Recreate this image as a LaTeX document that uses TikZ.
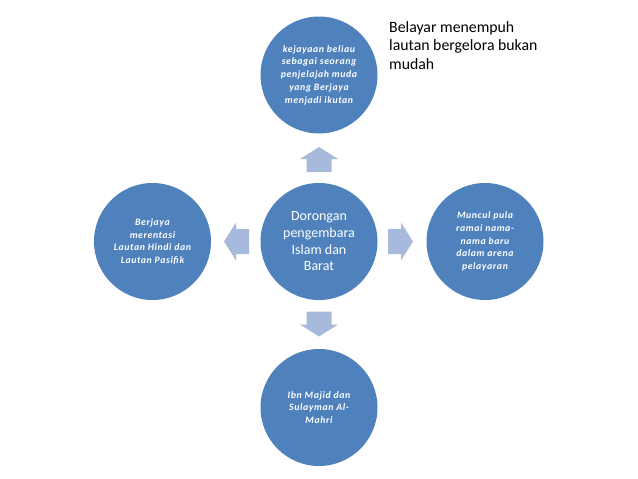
\documentclass[tikz,border=0pt]{standalone}
\usepackage{fontspec}
\setmainfont{Carlito}
\usepackage{tikz}
\definecolor{circblue}{HTML}{4F81BD}
\definecolor{arrowblue}{HTML}{A7BADB}
\tikzset{
  bubble/.style={circle, fill=circblue, minimum size=117pt, inner sep=0pt,
    text=white, align=center},
  smalltext/.style={font=\fontsize{9.8}{12.7}\selectfont\bfseries\itshape\addfontfeatures{LetterSpace=6}},
  bigtext/.style={font=\fontsize{14}{16.7}\selectfont},
  blockarrow/.style={fill=arrowblue}
}
\newcommand{\blockarr}[2]{%
\begin{scope}[shift={#1}, rotate=#2]
\fill[blockarrow] (0,-12.5) -- (13,-12.5) -- (13,-19) -- (25,0) -- (13,19) -- (13,12.5) -- (0,12.5) -- cycle;
\end{scope}}

\begin{document}
\begin{tikzpicture}[x=1pt,y=-1pt]
\useasboundingbox (0,0) rectangle (638,479);
% circles
\node[bubble, bigtext] (centre) at (319,241.5) {Dorongan\\pengembara\\Islam dan\\Barat};
\node[bubble, smalltext] (top) at (319,75) {kejayaan beliau\\sebagai seorang\\penjelajah muda\\yang Berjaya\\menjadi ikutan};
\node[bubble, smalltext] (left) at (152.5,241.5) {Berjaya\\merentasi\\Lautan Hindi dan\\Lautan Pasifik};
\node[bubble, smalltext] (right) at (485,241.5) {Muncul pula\\ramai nama-\\nama baru\\dalam arena\\pelayaran};
\node[bubble, smalltext] (bottom) at (319,407.5) {Ibn Majid dan\\Sulayman Al-\\Mahri};
% arrows
\blockarr{(319,172)}{90}
\blockarr{(319,311.5)}{-90}
\blockarr{(249,241.5)}{180}
\blockarr{(388,241.5)}{0}
% note
\node[anchor=north west, inner sep=0pt, align=left, font=\fontsize{15.8}{18.5}\selectfont] (note) at (389,21) {Belayar menempuh\\lautan bergelora bukan\\mudah};
\end{tikzpicture}
\end{document}
